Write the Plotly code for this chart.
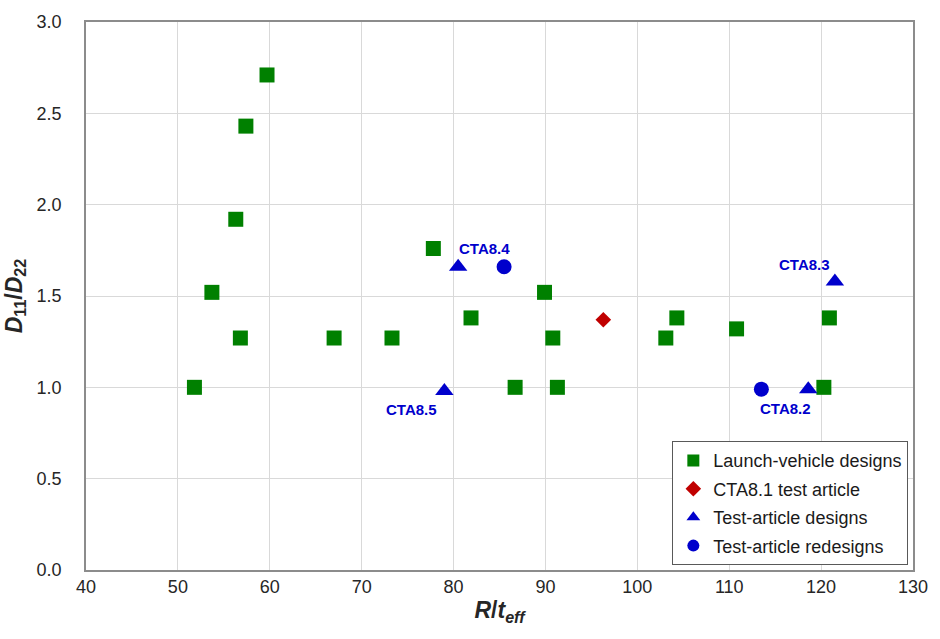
import plotly.graph_objects as go

# Launch-vehicle designs
lv_r = [51.8, 53.7, 56.8, 56.3, 57.4, 59.7, 67.0, 73.3, 77.8, 81.9, 86.7, 89.9,
        90.8, 91.3, 103.1, 104.3, 110.8, 120.9, 120.3]
lv_d = [1.00, 1.52, 1.27, 1.92, 2.43, 2.71, 1.27, 1.27, 1.76, 1.38, 1.00, 1.52,
        1.27, 1.00, 1.27, 1.38, 1.32, 1.38, 1.00]

# CTA8.1 test article
cta81_r = [96.3]
cta81_d = [1.37]

# Test-article designs
ta_names = ["CTA8.4", "CTA8.5", "CTA8.3", "CTA8.2"]
ta_r = [80.5, 79.0, 121.5, 118.6]
ta_d = [1.66, 0.98, 1.58, 0.99]

# Test-article redesigns
rd_names = ["CTA8.4", "CTA8.2"]
rd_r = [85.5, 113.5]
rd_d = [1.66, 0.99]

FONT = "Liberation Sans, Arial, sans-serif"
BLUE = "#0000cc"
TXT = "#262626"

fig = go.Figure()
fig.add_trace(go.Scatter(x=lv_r, y=lv_d, mode="markers", name="Launch-vehicle designs",
                         legendgroup="lv",
                         marker=dict(symbol="square", size=15, color="#008000")))
fig.add_trace(go.Scatter(x=cta81_r, y=cta81_d, mode="markers", name="CTA8.1 test article",
                         legendgroup="cta81",
                         marker=dict(symbol="diamond", size=12, color="#c00000")))
fig.add_trace(go.Scatter(x=ta_r, y=ta_d, mode="markers", name="Test-article designs",
                         legendgroup="ta",
                         marker=dict(symbol="triangle-up", size=16, color=BLUE)))
fig.add_trace(go.Scatter(x=rd_r, y=rd_d, mode="markers", name="Test-article redesigns",
                         legendgroup="rd",
                         marker=dict(symbol="circle", size=15, color=BLUE)))

# Point labels: (name, x, y, xshift, yshift)
label_offsets = {"CTA8.4": (ta_r[0], ta_d[0], 26, 18),
                 "CTA8.5": (ta_r[1], ta_d[1], -33, -19),
                 "CTA8.3": (ta_r[2], ta_d[2], -30, 17),
                 "CTA8.2": (rd_r[1], rd_d[1], 24, -19)}
for name, (lx, ly, dx, dy) in label_offsets.items():
    fig.add_annotation(x=lx, y=ly, text="<b>%s</b>" % name, showarrow=False,
                       xshift=dx, yshift=dy,
                       font=dict(family=FONT, size=15, color=BLUE))

axis_common = dict(showgrid=True, gridcolor="#d9d9d9", gridwidth=1,
                   showline=True, linecolor="#8c8c8c", linewidth=1.5, mirror=True,
                   zeroline=False, ticks="",
                   tickfont=dict(family=FONT, size=18, color=TXT))

fig.update_layout(
    width=940, height=639,
    margin=dict(l=86, r=20, t=16, b=69),
    paper_bgcolor="white", plot_bgcolor="white",
    font=dict(family=FONT),
    xaxis=dict(range=[40, 130], dtick=10, tickformat="d", ticklabelstandoff=0,
               title=dict(text="<b><i>R</i>/<i>t</i><sub><i>eff</i></sub></b>",
                          font=dict(family=FONT, size=23, color=TXT), standoff=6),
               **axis_common),
    yaxis=dict(range=[0, 3.0], dtick=0.5, tickformat=".1f", ticklabelstandoff=19,
               title=dict(text="<b><i>D</i><sub>11</sub>/<i>D</i><sub>22</sub></b>",
                          font=dict(family=FONT, size=23, color=TXT), standoff=8),
               **axis_common),
    showlegend=True,
    legend=dict(x=0.709, y=0.235, xanchor="left", yanchor="top",
                bgcolor="white", bordercolor="#595959", borderwidth=1,
                font=dict(family=FONT, size=18, color="#1a1a1a"),
                itemsizing="constant", itemwidth=30, tracegroupgap=2),
)

fig.write_html("out.html")
